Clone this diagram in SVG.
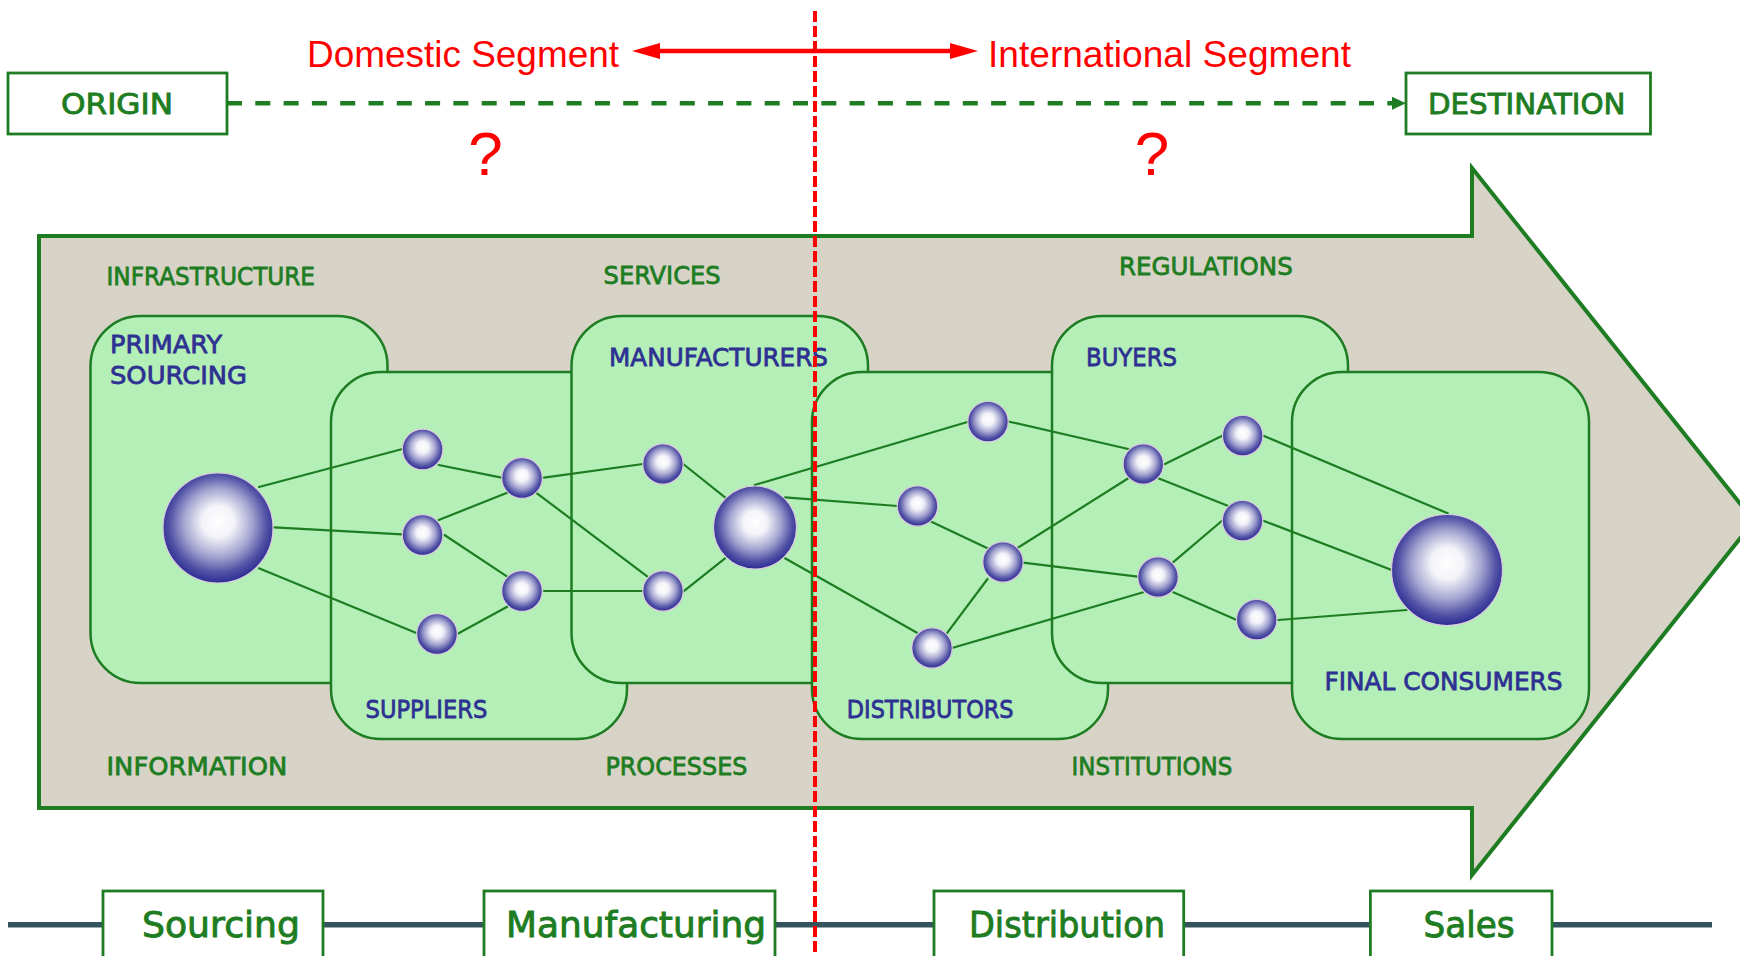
<svg xmlns="http://www.w3.org/2000/svg" width="1740" height="956" viewBox="0 0 1740 956">
<defs>
<style>
.lbl{font-family:"DejaVu Sans","Liberation Sans",sans-serif;font-size:25.5px;stroke-width:0.8px;}
.ctx{fill:#1e7d22;stroke:#1e7d22;}
.act{fill:#2e3192;stroke:#2e3192;}
.box{fill:#b3efb7;stroke:#1e7d22;stroke-width:2.5;}
.edge{stroke:#1e7d22;stroke-width:2.2;fill:none;stroke-linecap:round;}
.sph{fill:url(#sph);stroke:#dcc9de;stroke-width:1.2;}
.tb{fill:#ffffff;stroke:#1e7d22;stroke-width:2.8;}
.tbt{font-family:"DejaVu Sans","Liberation Sans",sans-serif;font-size:29px;fill:#1e7d22;stroke:#1e7d22;stroke-width:0.9px;}
.bt{font-family:"DejaVu Sans","Liberation Sans",sans-serif;font-size:35px;fill:#1e7d22;stroke:#1e7d22;stroke-width:0.9px;}
.red{font-family:"Liberation Sans",Arial,sans-serif;fill:#ff0000;}
</style>
<radialGradient id="sph" cx="50%" cy="47%" r="52%" fx="50%" fy="43%">
<stop offset="0" stop-color="#ffffff"/>
<stop offset="0.28" stop-color="#f3f3f9"/>
<stop offset="0.6" stop-color="#a4a4d1"/>
<stop offset="0.85" stop-color="#5252a6"/>
<stop offset="1" stop-color="#313196"/>
</radialGradient>
<marker id="rh" markerUnits="userSpaceOnUse" markerWidth="28" markerHeight="16" refX="10" refY="8" orient="auto-start-reverse" overflow="visible">
<path d="M0,0 L28,8 L0,16 z" fill="#ff0000"/>
</marker>
<marker id="gh" markerUnits="userSpaceOnUse" markerWidth="14" markerHeight="13" refX="3" refY="6.5" orient="auto" overflow="visible">
<path d="M0,0 L14,6.5 L0,13 z" fill="#1e7d22"/>
</marker>
</defs>
<rect width="1740" height="956" fill="#ffffff"/>

<g id="chain-arrow">
<polygon points="39,236 1472,236 1472,168 1754,521 1472,875 1472,808 39,808" fill="#d7d3c7" stroke="#1e7d22" stroke-width="4" stroke-linejoin="miter"/>
<text class="lbl ctx" x="106.5" y="285" textLength="208.5" lengthAdjust="spacingAndGlyphs">INFRASTRUCTURE</text>
<text class="lbl ctx" x="603.6" y="284" textLength="117" lengthAdjust="spacingAndGlyphs">SERVICES</text>
<text class="lbl ctx" x="1119" y="275" textLength="173.7" lengthAdjust="spacingAndGlyphs">REGULATIONS</text>
<text class="lbl ctx" x="106.5" y="775" textLength="180.7" lengthAdjust="spacingAndGlyphs">INFORMATION</text>
<text class="lbl ctx" x="605.4" y="775" textLength="142" lengthAdjust="spacingAndGlyphs">PROCESSES</text>
<text class="lbl ctx" x="1071.6" y="775" textLength="160.7" lengthAdjust="spacingAndGlyphs">INSTITUTIONS</text>
</g>

<g id="primary-sourcing">
<rect class="box" x="90.5" y="316" width="297" height="367" rx="50"/>
<text class="lbl act" x="110" y="352.7" textLength="112" lengthAdjust="spacingAndGlyphs">PRIMARY</text>
<text class="lbl act" x="110" y="384" textLength="137" lengthAdjust="spacingAndGlyphs">SOURCING</text>
</g>
<g id="suppliers">
<rect class="box" x="331" y="372" width="296" height="367" rx="50"/>
<text class="lbl act" x="365.6" y="718.3" textLength="121.7" lengthAdjust="spacingAndGlyphs">SUPPLIERS</text>
</g>
<g id="manufacturers">
<rect class="box" x="571.5" y="316" width="296.5" height="367" rx="50"/>
<text class="lbl act" x="609" y="366" textLength="219" lengthAdjust="spacingAndGlyphs">MANUFACTURERS</text>
</g>
<g id="distributors">
<rect class="box" x="812" y="372" width="296" height="367" rx="50"/>
<text class="lbl act" x="846.8" y="718.3" textLength="166.8" lengthAdjust="spacingAndGlyphs">DISTRIBUTORS</text>
</g>
<g id="buyers">
<rect class="box" x="1052" y="316" width="296" height="367" rx="50"/>
<text class="lbl act" x="1086" y="366" textLength="91" lengthAdjust="spacingAndGlyphs">BUYERS</text>
</g>
<g id="final-consumers">
<rect class="box" x="1292" y="372" width="297" height="367" rx="50"/>
<text class="lbl act" x="1324.5" y="690" textLength="238" lengthAdjust="spacingAndGlyphs">FINAL CONSUMERS</text>
</g>

<g id="connectors">
<line class="edge" x1="259" y1="487" x2="402.4" y2="449"/>
<line class="edge" x1="274.2" y1="527.3" x2="402.4" y2="534.3"/>
<line class="edge" x1="258.9" y1="568.3" x2="417" y2="633.3"/>
<line class="edge" x1="438.7" y1="465" x2="501.5" y2="477.7"/>
<line class="edge" x1="438.7" y1="520" x2="507.2" y2="492.7"/>
<line class="edge" x1="444.5" y1="535" x2="507.2" y2="576.7"/>
<line class="edge" x1="458.6" y1="633.3" x2="507.2" y2="606.7"/>
<line class="edge" x1="544" y1="477.7" x2="642.9" y2="464"/>
<line class="edge" x1="537" y1="493.3" x2="647.5" y2="576.7"/>
<line class="edge" x1="544" y1="591" x2="643" y2="591"/>
<line class="edge" x1="683.2" y1="464" x2="725" y2="497.3"/>
<line class="edge" x1="683.2" y1="591.7" x2="725" y2="558.3"/>
<line class="edge" x1="754.6" y1="485" x2="968.2" y2="421.7"/>
<line class="edge" x1="785" y1="497.3" x2="897.5" y2="506"/>
<line class="edge" x1="785" y1="558.3" x2="917" y2="632.7"/>
<line class="edge" x1="931.4" y1="521.7" x2="987.5" y2="548.3"/>
<line class="edge" x1="1009.3" y1="421.7" x2="1128.3" y2="449"/>
<line class="edge" x1="1017" y1="548.3" x2="1128.3" y2="478.3"/>
<line class="edge" x1="1023" y1="562.7" x2="1137.7" y2="576.7"/>
<line class="edge" x1="946.8" y1="633.3" x2="987.5" y2="579"/>
<line class="edge" x1="952.9" y1="647.7" x2="1143.3" y2="592.3"/>
<line class="edge" x1="1165" y1="464" x2="1221.7" y2="436"/>
<line class="edge" x1="1158.3" y1="478.3" x2="1227.7" y2="505.7"/>
<line class="edge" x1="1172.7" y1="562.7" x2="1221.7" y2="521"/>
<line class="edge" x1="1173.3" y1="592.3" x2="1236.7" y2="620"/>
<line class="edge" x1="1264" y1="436" x2="1447.7" y2="513.3"/>
<line class="edge" x1="1264" y1="521" x2="1391.7" y2="570"/>
<line class="edge" x1="1278.3" y1="620" x2="1406.7" y2="610"/>
</g>

<g id="sphere-source"><circle class="sph" cx="218" cy="528" r="55"/></g>
<g id="sphere-a"><circle class="sph" cx="422.6" cy="449.5" r="20.3"/></g>
<g id="sphere-b"><circle class="sph" cx="422.6" cy="535" r="20.3"/></g>
<g id="sphere-c"><circle class="sph" cx="522" cy="478" r="20.3"/></g>
<g id="sphere-d"><circle class="sph" cx="522" cy="591" r="20.3"/></g>
<g id="sphere-e"><circle class="sph" cx="437" cy="634" r="20.3"/></g>
<g id="sphere-f"><circle class="sph" cx="663" cy="464" r="20.2"/></g>
<g id="sphere-g"><circle class="sph" cx="663" cy="591" r="20.2"/></g>
<g id="sphere-manufacturer"><circle class="sph" cx="755" cy="527.5" r="41.5"/></g>
<g id="sphere-h"><circle class="sph" cx="988" cy="421.7" r="20.2"/></g>
<g id="sphere-i"><circle class="sph" cx="917.5" cy="506" r="20.2"/></g>
<g id="sphere-j"><circle class="sph" cx="1003" cy="562" r="20.2"/></g>
<g id="sphere-k"><circle class="sph" cx="932" cy="648" r="20.2"/></g>
<g id="sphere-l"><circle class="sph" cx="1143.3" cy="464" r="20.2"/></g>
<g id="sphere-m"><circle class="sph" cx="1242.7" cy="435.7" r="20.2"/></g>
<g id="sphere-n"><circle class="sph" cx="1242.5" cy="520.7" r="20.2"/></g>
<g id="sphere-o"><circle class="sph" cx="1158" cy="577" r="20.2"/></g>
<g id="sphere-p"><circle class="sph" cx="1256.7" cy="619.7" r="20.2"/></g>
<g id="sphere-consumer"><circle class="sph" cx="1447" cy="570" r="55.5"/></g>

<g id="origin">
<rect class="tb" x="8" y="73" width="219" height="61"/>
<text class="tbt" x="61" y="114" textLength="112" lengthAdjust="spacingAndGlyphs">ORIGIN</text>
</g>
<g id="destination">
<rect class="tb" x="1406" y="73" width="244.5" height="61"/>
<text class="tbt" x="1428" y="114" textLength="197.5" lengthAdjust="spacingAndGlyphs">DESTINATION</text>
</g>
<g id="segment-connectors">
<line x1="227" y1="103.3" x2="1395" y2="103.3" stroke="#1e7d22" stroke-width="4.5" stroke-dasharray="15 13.3" marker-end="url(#gh)"/>
<line x1="650" y1="51" x2="960" y2="51" stroke="#ff0000" stroke-width="4.5" marker-start="url(#rh)" marker-end="url(#rh)"/>
</g>
<g id="segment-labels">
<text class="red" x="307" y="67" font-size="37" textLength="312" lengthAdjust="spacingAndGlyphs">Domestic Segment</text>
<text class="red" x="988" y="67" font-size="37" textLength="363" lengthAdjust="spacingAndGlyphs">International Segment</text>
<text class="red" x="485.5" y="175" font-size="62" text-anchor="middle">?</text>
<text class="red" x="1152" y="175" font-size="62" text-anchor="middle">?</text>
</g>

<g id="stages">
<line x1="8" y1="924.7" x2="1712" y2="924.7" stroke="#35535e" stroke-width="5.5"/>
<g id="stage-sourcing">
<rect class="tb" x="103" y="891" width="220" height="90"/>
<text class="bt" x="142" y="937" textLength="158" lengthAdjust="spacingAndGlyphs">Sourcing</text>
</g>
<g id="stage-manufacturing">
<rect class="tb" x="484" y="891" width="291" height="90"/>
<text class="bt" x="506" y="937" textLength="260" lengthAdjust="spacingAndGlyphs">Manufacturing</text>
</g>
<g id="stage-distribution">
<rect class="tb" x="934" y="891" width="249.7" height="90"/>
<text class="bt" x="969" y="937" textLength="196" lengthAdjust="spacingAndGlyphs">Distribution</text>
</g>
<g id="stage-sales">
<rect class="tb" x="1370.4" y="891" width="181.6" height="90"/>
<text class="bt" x="1423.6" y="937" textLength="91" lengthAdjust="spacingAndGlyphs">Sales</text>
</g>
</g>

<g id="segment-divider">
<line x1="815" y1="11" x2="815" y2="956" stroke="#ff0000" stroke-width="4" stroke-dasharray="11 4"/>
</g>
</svg>
